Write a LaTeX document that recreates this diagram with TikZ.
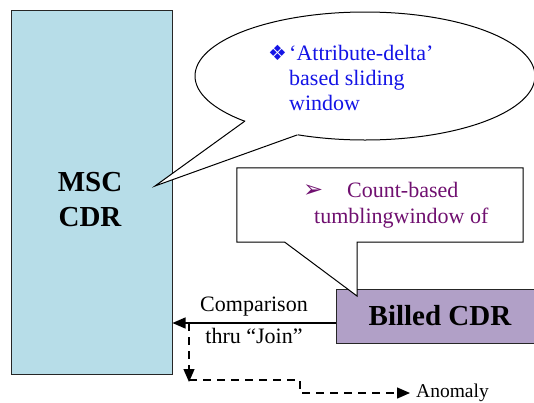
\documentclass[tikz,border=0pt]{standalone}
\usepackage{fontspec}
\setmainfont{Liberation Serif}
\newfontfamily\dingfont{DejaVu Sans}
\usetikzlibrary{arrows.meta}

\definecolor{mscblue}{RGB}{183,221,232}
\definecolor{billpurple}{RGB}{177,160,199}
\definecolor{noteblue}{RGB}{20,20,230}
\definecolor{notepurple}{RGB}{112,16,112}

\begin{document}
\begin{tikzpicture}[x=1pt,y=-1pt,
    cdrbox/.style ={rectangle, draw=black!85, line width=1pt, inner sep=0pt},
    cdrtext/.style ={font=\fontsize{29}{35}\selectfont\bfseries, align=center},
    labeltext/.style ={font=\fontsize{22}{25}\selectfont},
    flowarrow/.style ={line width=1.3pt, -{Triangle[length=13pt,width=11pt]}},
    dashflow/.style ={flowarrow, dash pattern=on 8pt off 6pt}]
   \useasboundingbox (0,0) rectangle (534,402);
   % the two record streams
   \node[cdrbox, fill=mscblue, minimum width=161pt, minimum height=364pt] (msc) at (91.5,192) {};
   \node[cdrtext] (msclabel) at (90,200) {MSC\\CDR};
   \node[cdrbox, cdrtext, fill=billpurple, minimum width=208pt, minimum height=54pt] (billed) at (440,316) {Billed CDR};
   % join and anomaly output
   \draw[flowarrow] ([yshift=-7pt]billed.west) -- ([yshift=-7pt]billed.west -| msc.east)
      node[pos=0.5, above, labeltext, inner sep=6pt] (cmp) {Comparison}
      node[pos=0.5, below, labeltext, inner sep=5pt] (thru) {thru “Join”};
   \coordinate (split) at (189,323);
   \coordinate (drop) at (189,382);
   \coordinate (bend) at (300,393);
   \node[font=\fontsize{19.5}{22}\selectfont, anchor=base west, inner xsep=6pt, inner ysep=0pt] (anomaly) at (410,397.5) {Anomaly};
   \draw[dashflow] (split) -- (drop);
   \draw[dashflow] ([yshift=2pt]drop) -| (bend) -- (bend -| anomaly.west);
   % window notes
   \coordinate (attrnote) at (365,76);
   \coordinate (attrtip) at (155,186);
   \coordinate (attrleft) at (245,121);
   \coordinate (attrright) at (297,135);
   \draw[fill=white, line width=1pt] (attrnote) ellipse [x radius=170, y radius=64];
   \fill[white] (attrleft) -- (attrtip) -- (attrright) -- (attrnote) -- cycle;
   \draw[line width=1pt] (attrleft) -- (attrtip) -- (attrright);
   \node[labeltext, text=noteblue, align=left, anchor=north west, inner sep=0pt] (attrtext) at (289,45)
      {\llap{\makebox[21pt][l]{\dingfont\fontsize{21}{25}\selectfont ❖}}‘Attribute-delta’\\based sliding\\window};
   \node[minimum width=286pt, minimum height=74pt, inner sep=0pt] (countnote) at (380,205) {};
   \coordinate (counttip) at (357,296);
   \draw[fill=white, line width=1pt] (countnote.north west) -- (countnote.north east) -- (countnote.south east)
      -- (counttip |- countnote.south) -- (counttip) -- ([xshift=48pt]countnote.south west)
      -- (countnote.south west) -- cycle;
   \node[labeltext, text=notepurple, align=left, anchor=north west, inner sep=0pt, font=\fontsize{22}{26}\selectfont] (counttext) at (314,182)
      {\hspace*{-11pt}\makebox[44pt][l]{\dingfont\fontsize{24}{26}\selectfont ➢}Count-based\\tumblingwindow of};
 \end{tikzpicture}
\end{document}
